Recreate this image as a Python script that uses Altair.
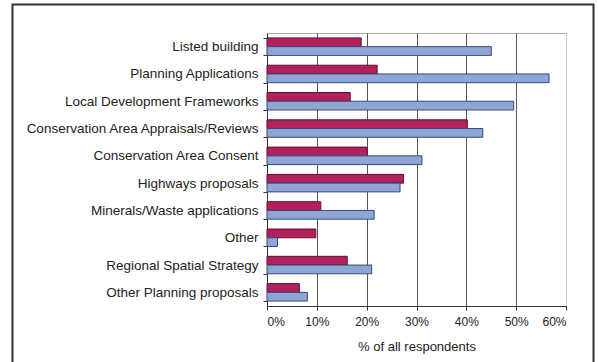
import altair as alt
import pandas as pd

categories = [
    "Listed building",
    "Planning Applications",
    "Local Development Frameworks",
    "Conservation Area Appraisals/Reviews",
    "Conservation Area Consent",
    "Highways proposals",
    "Minerals/Waste applications",
    "Other",
    "Regional Spatial Strategy",
    "Other Planning proposals",
]
series_names = ["Series 1", "Series 2"]
series1 = [18.9, 22.1, 16.7, 40.2, 20.1, 27.4, 10.8, 9.8, 16.1, 6.5]
series2 = [45.0, 56.6, 49.5, 43.3, 31.1, 26.7, 21.5, 2.1, 21.0, 8.1]
x_ticks = [0, 10, 20, 30, 40, 50, 60]

rows = []
for c, a, b in zip(categories, series1, series2):
    rows.append({"category": c, "series": series_names[0], "value": a})
    rows.append({"category": c, "series": series_names[1], "value": b})
df = pd.DataFrame(rows)

FONT = "Liberation Sans"

bars = alt.Chart(df).mark_bar(strokeWidth=1).encode(
    y=alt.Y(
        "category:N",
        sort=categories,
        scale=alt.Scale(paddingInner=0.36, paddingOuter=0.18),
        axis=alt.Axis(
            title=None,
            tickBand="extent",
            tickSize=4,
            tickColor="#333",
            domainColor="#333",
            labelPadding=5,
            labelFontSize=13.5,
            labelFont=FONT,
            labelColor="#222",
            labelLimit=300,
            grid=False,
        ),
    ),
    yOffset=alt.YOffset("series:N", sort=series_names),
    x=alt.X(
        "value:Q",
        scale=alt.Scale(domain=[0, 60], nice=False),
        axis=alt.Axis(
            values=x_ticks,
            labelExpr="datum.value + '%'",
            title="% of all respondents",
            grid=True,
            gridColor={"condition": {"test": "datum.value == 60", "value": "#c8c8c8"}, "value": "#555"},
            gridWidth=1,
            domainColor="#333",
            tickColor="#333",
            tickSize=4,
            labelPadding=6,
            labelFontSize=12,
            labelFont=FONT,
            labelColor="#222",
            titleFont=FONT,
            titleFontSize=13,
            titleFontWeight="normal",
            titleColor="#222",
            titlePadding=13,
        ),
    ),
    color=alt.Color(
        "series:N",
        scale=alt.Scale(domain=series_names, range=["#B3205E", "#8FA5D5"]),
        legend=None,
    ),
    stroke=alt.Stroke(
        "series:N",
        scale=alt.Scale(domain=series_names, range=["#5E0F30", "#3A4A70"]),
        legend=None,
    ),
)

frame = alt.Chart(pd.DataFrame({"a": [0]})).mark_rect(
    fill=None, stroke="#333", strokeWidth=2, clip=False
).encode(
    x=alt.value(-254.5),
    x2=alt.value(326.5),
    y=alt.value(-28.5),
    y2=alt.value(345),
)

chart = alt.layer(bars, frame).properties(
    width=299,
    height=273,
    autosize=alt.AutoSizeParams(type="none"),
    padding={"left": 267, "top": 33, "right": 32, "bottom": 56},
    background="white",
).configure_view(stroke="#aaa", strokeWidth=1)

chart.save("out.html", embed_options={"renderer": "svg", "actions": False})
